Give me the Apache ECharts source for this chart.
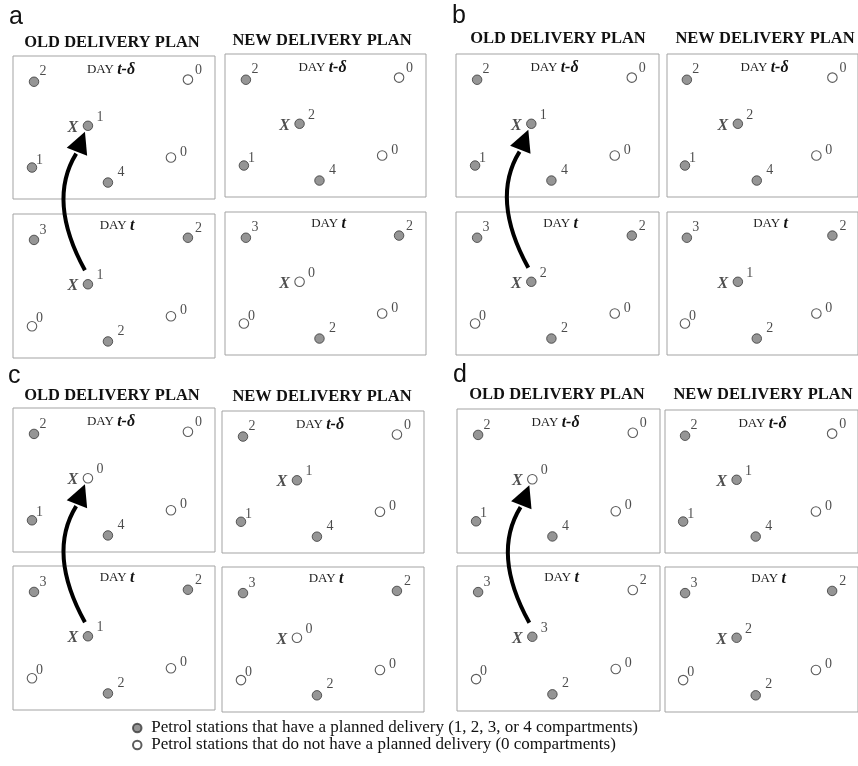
<!DOCTYPE html>
<html>
<head>
<meta charset="utf-8">
<script src="https://cdn.jsdelivr.net/npm/echarts@6/dist/echarts.min.js"></script>
<style>
  html, body { margin: 0; padding: 0; background: #fff; }
  #chart { width: 858px; height: 766px; }
</style>
</head>
<body>
<div id="chart"></div>
<script>
// station layout inside each box, % of width and % of height from the top
const stationX = [10.4, 86.6, 37.1, 9.4, 78.2, 47.0];
const stationY = [18.0, 16.5, 48.8, 78.0, 71.0, 88.5];
const xStation = 2; // the station marked X

const panelNames = ['a', 'b', 'c', 'd'];
const planTitles = ['OLD DELIVERY PLAN', 'NEW DELIVERY PLAN'];
const dayNames = ['t-δ', 't'];

// compartments delivered per station (order follows stationX / stationY)
const aOldPrev = [2, 0, 1, 1, 0, 4];
const aNewPrev = [2, 0, 2, 1, 0, 4];
const aOldDay  = [3, 2, 1, 0, 0, 2];
const aNewDay  = [3, 2, 0, 0, 0, 2];

const bOldPrev = [2, 0, 1, 1, 0, 4];
const bNewPrev = [2, 0, 2, 1, 0, 4];
const bOldDay  = [3, 2, 2, 0, 0, 2];
const bNewDay  = [3, 2, 1, 0, 0, 2];

const cOldPrev = [2, 0, 0, 1, 0, 4];
const cNewPrev = [2, 0, 1, 1, 0, 4];
const cOldDay  = [3, 2, 1, 0, 0, 2];
const cNewDay  = [3, 2, 0, 0, 0, 2];

const dOldPrev = [2, 0, 0, 1, 0, 4];
const dNewPrev = [2, 0, 1, 1, 0, 4];
const dOldDay  = [3, 2, 3, 0, 0, 2];
const dNewDay  = [3, 2, 2, 0, 0, 2];
const dOldDayHollow = [1]; // drawn as an empty circle in the original

const legendFilled = 'Petrol stations that have a planned delivery (1, 2, 3, or 4 compartments)';
const legendHollow = 'Petrol stations that do not have a planned delivery (0 compartments)';

// box order per panel: old t-δ, new t-δ, old t, new t
const boxValues = [
  [aOldPrev, aNewPrev, aOldDay, aNewDay],
  [bOldPrev, bNewPrev, bOldDay, bNewDay],
  [cOldPrev, cNewPrev, cOldDay, cNewDay],
  [dOldPrev, dNewPrev, dOldDay, dNewDay]
];

// layout (pixels)
const boxRects = [
  [[13, 56, 202, 143], [225, 54, 201, 143], [13, 214, 202, 144], [225, 212, 201, 143]],
  [[456, 54, 203, 143], [667, 54, 201, 143], [456, 212, 203, 143], [667, 212, 201, 143]],
  [[13, 408, 202, 144], [222, 411, 202, 142], [13, 566, 202, 144], [222, 567, 202, 145]],
  [[457, 409, 203, 144], [665, 410, 201, 143], [457, 566, 203, 145], [665, 567, 201, 145]]
];
const panelLetterPos = [[9, 5], [452, 4], [8, 364], [453, 363]];
const titleCenters = [
  [[112, 43], [322, 41]],
  [[558, 39], [765, 39]],
  [[112, 396], [322, 397]],
  [[557, 395], [763, 395]]
];
const labelOffsets = [[9, -10], [10.5, -9.5], [12, -8.5], [7.5, -7.5], [12.5, -5.5], [13, -10.5]];

const SERIF = 'Liberation Serif';
const filledStyle = { color: '#7a7a7a', borderColor: '#383838', borderWidth: 1 };
const hollowStyle = { color: '#ffffff', borderColor: '#333333', borderWidth: 1.1 };

const chart = echarts.init(document.getElementById('chart'), null, { renderer: 'canvas' });

const grids = [], xAxes = [], yAxes = [], series = [], graphics = [];

boxValues.forEach((panel, p) => {
  panel.forEach((values, k) => {
    const gi = p * 4 + k;
    const r = boxRects[p][k];
    grids.push({
      left: r[0], top: r[1], width: r[2], height: r[3],
      show: true, borderColor: '#a3a3a3', borderWidth: 1, backgroundColor: '#fff'
    });
    xAxes.push({ gridIndex: gi, type: 'value', min: 0, max: 100, show: false });
    yAxes.push({ gridIndex: gi, type: 'value', min: 0, max: 100, inverse: true, show: false });

    const hollowIdx = (p === 3 && k === 2) ? dOldDayHollow : [];
    const filled = [], hollow = [];
    values.forEach((v, s) => {
      const item = {
        value: [stationX[s], stationY[s], v],
        label: { offset: labelOffsets[s] }
      };
      if (v > 0 && hollowIdx.indexOf(s) < 0) filled.push(item); else hollow.push(item);
    });
    const labelCfg = {
      show: true, position: 'inside', formatter: prm => String(prm.value[2]),
      fontFamily: SERIF, fontSize: 14, color: '#1e1e1e'
    };
    series.push({
      name: legendFilled, type: 'scatter', xAxisIndex: gi, yAxisIndex: gi,
      symbol: 'circle', symbolSize: 9.5, itemStyle: filledStyle, label: labelCfg,
      data: filled, silent: true
    });
    series.push({
      name: legendHollow, type: 'scatter', xAxisIndex: gi, yAxisIndex: gi,
      symbol: 'circle', symbolSize: 9.5, itemStyle: hollowStyle, label: labelCfg,
      data: hollow, silent: true
    });
    series.push({
      name: 'X', type: 'scatter', xAxisIndex: gi, yAxisIndex: gi,
      symbolSize: 1, itemStyle: { color: 'rgba(0,0,0,0)' }, silent: true,
      label: {
        show: true, position: 'inside', formatter: 'X', offset: [-15, 2],
        fontFamily: SERIF, fontStyle: 'italic', fontWeight: 'bold', fontSize: 16, color: '#222'
      },
      data: [[stationX[xStation], stationY[xStation]]]
    });

    // DAY label
    const prev = k < 2;
    graphics.push({
      type: 'text',
      x: r[0] + r[2] / 2 + (prev ? -3 : 3),
      y: r[1] + (prev ? 14 : 12),
      style: {
        text: '{d|DAY }{t|' + dayNames[prev ? 0 : 1] + '}',
        rich: {
          d: { fontFamily: SERIF, fontSize: 13, fill: '#222' },
          t: { fontFamily: SERIF, fontSize: 16, fontStyle: 'italic', fontWeight: 'bold', fill: '#111' }
        },
        textAlign: 'center', textVerticalAlign: 'middle'
      }
    });
  });

  graphics.push({
    type: 'text', x: panelLetterPos[p][0], y: panelLetterPos[p][1],
    style: { text: panelNames[p], font: '25px "Liberation Sans"', fill: '#111' }
  });
  planTitles.forEach((t, j) => {
    graphics.push({
      type: 'text', x: titleCenters[p][j][0], y: titleCenters[p][j][1],
      style: {
        text: t, font: 'bold 16.5px "Liberation Serif"', fill: '#111',
        textAlign: 'center', textVerticalAlign: 'middle'
      }
    });
  });
});

chart.setOption({
  animation: false,
  backgroundColor: '#fff',
  textStyle: { fontFamily: SERIF },
  grid: grids,
  xAxis: xAxes,
  yAxis: yAxes,
  legend: {
    orient: 'vertical', left: 127, top: 714.5,
    itemWidth: 18, itemHeight: 8.5, itemGap: 0,
    selectedMode: false,
    textStyle: { fontFamily: SERIF, fontSize: 17, color: '#111', lineHeight: 17 },
    data: [legendFilled, legendHollow]
  },
  series: series,
  graphic: graphics
});

// curved arrows from day t X to day t-δ X in each old plan
const arrows = [];
boxValues.forEach((panel, p) => {
  const pt = [stationX[xStation], stationY[xStation]];
  const from = chart.convertToPixel({ gridIndex: p * 4 + 2 }, pt);
  const to = chart.convertToPixel({ gridIndex: p * 4 }, pt);
  const s = [from[0] - 3, from[1] - 14];
  const tip = [to[0] - 3, to[1] + 6];
  const base = [tip[0] - 8, tip[1] + 20];
  const c = [s[0] - 38, (s[1] + base[1]) / 2 - 10];
  const dx = tip[0] - base[0], dy = tip[1] - base[1];
  const len = Math.sqrt(dx * dx + dy * dy);
  const nx = -dy / len * 11, ny = dx / len * 11;
  arrows.push({
    type: 'bezierCurve', silent: true,
    shape: { x1: s[0], y1: s[1], x2: base[0] - dx / len * 2, y2: base[1] - dy / len * 2, cpx1: c[0], cpy1: c[1] },
    style: { stroke: '#000', lineWidth: 4, fill: null }
  });
  arrows.push({
    type: 'polygon', silent: true,
    shape: { points: [tip, [base[0] + nx, base[1] + ny], [base[0] - nx, base[1] - ny]] },
    style: { fill: '#000' }
  });
});
chart.setOption({ graphic: graphics.concat(arrows) });
</script>
</body>
</html>
